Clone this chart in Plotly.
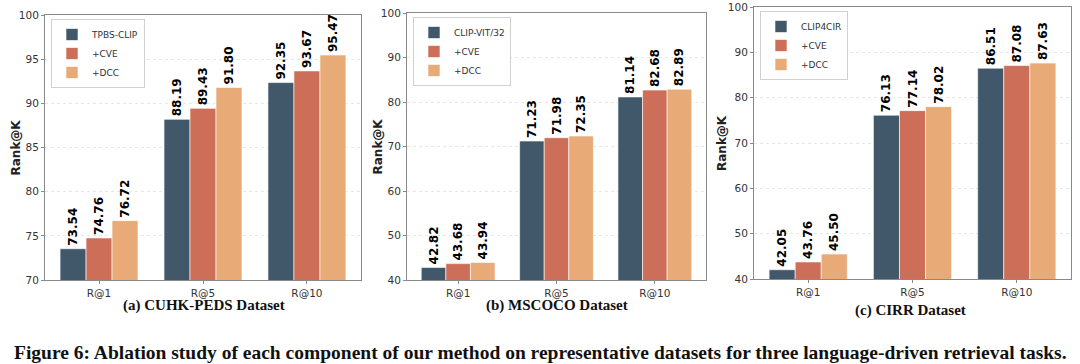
import plotly.graph_objects as go

categories = ["R@1", "R@5", "R@10"]
series_names_a = ["TPBS-CLIP", "+CVE", "+DCC"]
series_names_b = ["CLIP-VIT/32", "+CVE", "+DCC"]
series_names_c = ["CLIP4CIR", "+CVE", "+DCC"]

a_base = [73.54, 88.19, 92.35]
a_cve = [74.76, 89.43, 93.67]
a_dcc = [76.72, 91.80, 95.47]

b_base = [42.82, 71.23, 81.14]
b_cve = [43.68, 71.98, 82.68]
b_dcc = [43.94, 72.35, 82.89]

c_base = [42.05, 76.13, 86.51]
c_cve = [43.76, 77.14, 87.08]
c_dcc = [45.50, 78.02, 87.63]

titles = ["(a) CUHK-PEDS Dataset", "(b) MSCOCO Dataset", "(c) CIRR Dataset"]
y_title = "Rank@K"
caption = "Figure 6: Ablation study of each component of our method on representative datasets for three language-driven retrieval tasks."
colors = ["#41576a", "#cd6f58", "#e8ab78"]

W, H = 1080, 364
panels = [
    dict(names=series_names_a, vals=[a_base, a_cve, a_dcc], x=(45, 361), y=(15, 280), yr=(70, 100), dt=5,
         leg=(51, 19), title_y=305, title_x=204, ytx=15),
    dict(names=series_names_b, vals=[b_base, b_cve, b_dcc], x=(407, 706), y=(13, 280), yr=(40, 100), dt=10,
         leg=(413, 17), title_y=305, title_x=557, ytx=377),
    dict(names=series_names_c, vals=[c_base, c_cve, c_dcc], x=(754, 1071), y=(7, 279), yr=(40, 100), dt=10,
         leg=(760, 11), title_y=310, title_x=910, ytx=722),
]

fig = go.Figure()
layout = dict(width=W, height=H, margin=dict(l=0, r=0, t=0, b=0, autoexpand=False),
              plot_bgcolor="white", paper_bgcolor="white", barmode="group",
              bargap=0.25, bargroupgap=0, showlegend=True,
              font=dict(family="DejaVu Sans", color="#333"))
annotations = []
for i, p in enumerate(panels):
    k = "" if i == 0 else str(i + 1)
    legname = "legend" + k
    for j in range(3):
        fig.add_trace(go.Bar(
            x=categories, y=p["vals"][j], name=p["names"][j],
            marker=dict(color=colors[j], line=dict(color="white", width=0.6)),
            texttemplate="<b>%{y:.2f}</b>", textposition="outside", textangle=-90,
            textfont=dict(family="DejaVu Sans", size=12, color="black"),
            cliponaxis=False, constraintext="none",
            xaxis="x" + k, yaxis="y" + k, legend=legname,
            offsetgroup=str(j),
        ))
    layout["xaxis" + k] = dict(domain=[p["x"][0] / W, p["x"][1] / W], anchor="y" + k, automargin=False,
                               range=[-0.52, 2.52], showline=True, linecolor="#8a8a8a", linewidth=1,
                               mirror=True, ticks="outside", ticklen=3, tickcolor="#8a8a8a",
                               tickfont=dict(size=10.5, color="#333"), showgrid=False)
    layout["yaxis" + k] = dict(domain=[1 - p["y"][1] / H, 1 - p["y"][0] / H], anchor="x" + k, automargin=False,
                               range=list(p["yr"]), dtick=p["dt"], tick0=p["yr"][0],
                               showline=True, linecolor="#8a8a8a", linewidth=1, mirror=True,
                               ticks="outside", ticklen=3, tickcolor="#8a8a8a",
                               tickfont=dict(size=10.5, color="#333"),
                               showgrid=True, gridcolor="#e6e6e6", griddash="dot", gridwidth=1,
                               zeroline=False)
    layout[legname] = dict(x=p["leg"][0] / W, y=1 - p["leg"][1] / H, xanchor="left", yanchor="top",
                           bgcolor="white", bordercolor="#d0d0d0", borderwidth=1,
                           font=dict(size=9, color="#333"), tracegroupgap=0, itemwidth=30)
    annotations.append(dict(text="<b>" + y_title + "</b>", xref="paper", yref="paper",
                            x=p["ytx"] / W, y=1 - (p["y"][0] + p["y"][1]) / 2 / H, showarrow=False,
                            xanchor="center", yanchor="middle", textangle=-90,
                            font=dict(family="DejaVu Sans", size=12, color="#222")))
    annotations.append(dict(text="<b>" + titles[i] + "</b>", xref="paper", yref="paper",
                            x=p["title_x"] / W, y=1 - p["title_y"] / H, showarrow=False,
                            xanchor="center", yanchor="middle",
                            font=dict(family="Liberation Serif", size=15, color="#111")))
annotations.append(dict(text="<b>" + caption + "</b>", xref="paper", yref="paper",
                        x=0.5, y=1 - 352 / H, showarrow=False, xanchor="center", yanchor="middle",
                        font=dict(family="Liberation Serif", size=19.5, color="#111")))
layout["annotations"] = annotations
fig.update_layout(**layout)
fig.write_html("out.html", config={"displayModeBar": False},
               post_script="document.body.style.margin='0';document.body.style.overflow='hidden';")
